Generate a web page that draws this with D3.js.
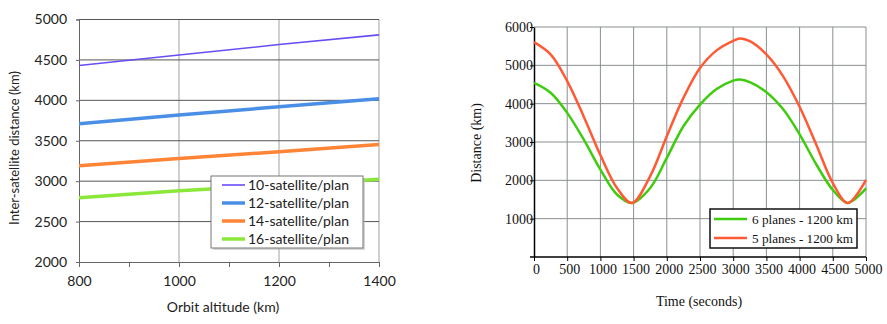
<!DOCTYPE html>
<html>
<head>
<meta charset="utf-8">
<script src="https://cdn.jsdelivr.net/npm/d3@7"></script>
<style>
  body { margin: 0; background: #fff; }
  svg { display: block; }
  .left text { font-family: 'Lato', sans-serif; fill: #222; }
  .right text { font-family: 'Liberation Serif', serif; fill: #111; }
</style>
</head>
<body>
<svg width="887" height="324"></svg>
<script>
const svg = d3.select('svg');

// left chart data: inter-satellite distance vs altitude
const altitudes = [800, 1000, 1200, 1400];
const sat10 = [4430, 4560, 4690, 4810];
const sat12 = [3710, 3820, 3920, 4020];
const sat14 = [3190, 3280, 3365, 3455];
const sat16 = [2795, 2880, 2950, 3025];
const leftNames = ['10-satellite/plan', '12-satellite/plan', '14-satellite/plan', '16-satellite/plan'];
const leftTicksY = [2000, 2500, 3000, 3500, 4000, 4500, 5000];
const leftTicksX = [800, 1000, 1200, 1400];

// right chart data: distance over time
const times = [0, 250, 500, 750, 1000, 1250, 1475, 1750, 2000, 2250, 2500, 2750, 3000, 3100, 3250, 3500, 3750, 4000, 4250, 4500, 4725, 5000];
const planes6 = [4540, 4285, 3760, 3060, 2280, 1630, 1410, 1800, 2585, 3410, 3975, 4380, 4600, 4630, 4560, 4300, 3860, 3200, 2420, 1750, 1410, 1790];
const planes5 = [5605, 5285, 4590, 3660, 2660, 1800, 1410, 2110, 3150, 4150, 4930, 5390, 5640, 5700, 5630, 5285, 4720, 3920, 2935, 1930, 1410, 2010];
const rightNames = ['6 planes - 1200 km', '5 planes - 1200 km'];
const rightTicksY = [1000, 2000, 3000, 4000, 5000, 6000];
const rightTicksX = d3.range(0, 5001, 500);

const renderLeft = () => {
  const g = svg.append('g').attr('class', 'left');
  const x = d3.scaleLinear().domain([800, 1400]).range([79, 379]);
  const y = d3.scaleLinear().domain([2000, 5000]).range([262, 19.5]);

  // vertical grid, light gray
  g.selectAll('.vgrid').data([1000, 1200, 1400]).enter().append('line')
    .attr('x1', d => x(d)).attr('x2', d => x(d))
    .attr('y1', y(5000)).attr('y2', y(2000))
    .attr('stroke', '#d0d0d0').attr('stroke-width', 2);
  // horizontal grid, dark
  g.selectAll('.hgrid').data(leftTicksY.slice(1)).enter().append('line')
    .attr('x1', x(800)).attr('x2', x(1400))
    .attr('y1', d => y(d)).attr('y2', d => y(d))
    .attr('stroke', '#555').attr('stroke-width', 1);

  const yAxis = d3.axisLeft(y).tickValues(leftTicksY).tickSize(3).tickPadding(9)
    .tickFormat(d3.format('d'));
  const ya = g.append('g').attr('transform', `translate(${x(800)},0)`).call(yAxis);
  ya.select('.domain').attr('stroke', '#666');
  ya.selectAll('.tick line').attr('stroke', '#666');
  ya.selectAll('text').attr('font-size', 14);

  const xAxis = d3.axisBottom(x).tickValues(d3.range(800, 1401, 100)).tickSize(5).tickPadding(9)
    .tickFormat(d => leftTicksX.includes(d) ? d : '');
  const xa = g.append('g').attr('transform', `translate(0,${y(2000)})`).call(xAxis);
  xa.select('.domain').attr('stroke', '#666');
  xa.selectAll('.tick line').attr('stroke', '#666');
  xa.selectAll('text').attr('font-size', 14);

  const series = [
    { name: leftNames[0], values: sat10, color: '#6a4cf5', w: 1.6 },
    { name: leftNames[1], values: sat12, color: '#4a8fe6', w: 3.5 },
    { name: leftNames[2], values: sat14, color: '#ff8536', w: 3.5 },
    { name: leftNames[3], values: sat16, color: '#8be83a', w: 3.5 }
  ];
  const line = d3.line().x((d, i) => x(altitudes[i])).y(d => y(d));
  g.selectAll('.series').data(series).enter().append('path')
    .attr('d', d => line(d.values))
    .attr('fill', 'none')
    .attr('stroke', d => d.color)
    .attr('stroke-width', d => d.w);

  // legend
  const lg = g.append('g').attr('transform', 'translate(211,176)');
  lg.append('rect').attr('x', 2).attr('y', 2).attr('width', 152).attr('height', 72)
    .attr('fill', '#bbb').attr('opacity', 0.6);
  lg.append('rect').attr('width', 152).attr('height', 72)
    .attr('fill', '#fff').attr('stroke', '#777').attr('stroke-width', 1);
  const items = lg.selectAll('.item').data(series).enter().append('g')
    .attr('transform', (d, i) => `translate(0,${9 + i * 18})`);
  items.append('line').attr('x1', 11).attr('x2', 34)
    .attr('stroke', d => d.color).attr('stroke-width', d => d.w);
  items.append('text').attr('x', 37).attr('dy', '0.35em').attr('font-size', 14)
    .text(d => d.name);

  g.append('text').attr('x', 223).attr('y', 312).attr('text-anchor', 'middle')
    .attr('font-size', 14).text('Orbit altitude (km)');
  g.append('text').attr('transform', 'translate(14,148) rotate(-90)')
    .attr('text-anchor', 'middle').attr('dy', '0.35em')
    .attr('font-size', 13).text('Inter-satellite distance (km)');
};

const renderRight = () => {
  const g = svg.append('g').attr('class', 'right');
  const x = d3.scaleLinear().domain([0, 5000]).range([534, 866]);
  const y = d3.scaleLinear().domain([0, 6000]).range([257, 27]);

  g.selectAll('.vgrid').data(rightTicksX.slice(1)).enter().append('line')
    .attr('x1', d => x(d)).attr('x2', d => x(d))
    .attr('y1', y(6000)).attr('y2', y(0))
    .attr('stroke', '#8a8f8f').attr('stroke-width', 1);
  g.selectAll('.hgrid').data(rightTicksY).enter().append('line')
    .attr('x1', x(0)).attr('x2', x(5000))
    .attr('y1', d => y(d)).attr('y2', d => y(d))
    .attr('stroke', '#8a8f8f').attr('stroke-width', 1);

  const yAxis = d3.axisLeft(y).tickValues(rightTicksY).tickSize(4).tickPadding(-3)
    .tickSizeOuter(0).tickFormat(d3.format('d'));
  const ya = g.append('g').attr('transform', `translate(${x(0)},0)`).call(yAxis);
  ya.selectAll('text').attr('font-size', 14);
  ya.select('.domain').attr('stroke-width', 1.5);

  const xAxis = d3.axisBottom(x).tickValues(rightTicksX).tickSize(4).tickPadding(3)
    .tickSizeOuter(0).tickFormat(d3.format('d'));
  const xa = g.append('g').attr('transform', `translate(0,${y(0)})`).call(xAxis);
  xa.selectAll('text').attr('font-size', 14).attr('dx', 2);
  xa.select('.domain').attr('stroke-width', 1.5).attr('d', `M${x(0) - 4},0H${x(5000)}`);

  const series = [
    { name: rightNames[0], values: planes6, color: '#3fcc10' },
    { name: rightNames[1], values: planes5, color: '#ff5a36' }
  ];
  // centripetal catmull-rom gives a smooth curve through the read points
  const line = d3.line().curve(d3.curveCatmullRom.alpha(0.5))
    .x((d, i) => x(times[i])).y(d => y(d));
  g.selectAll('.series').data(series).enter().append('path')
    .attr('d', d => line(d.values))
    .attr('fill', 'none')
    .attr('stroke', d => d.color)
    .attr('stroke-width', 2.5);

  const lg = g.append('g').attr('transform', 'translate(710,209)');
  lg.append('rect').attr('width', 147).attr('height', 39)
    .attr('fill', '#fff').attr('stroke', '#111').attr('stroke-width', 1.5);
  const items = lg.selectAll('.item').data(series).enter().append('g')
    .attr('transform', (d, i) => `translate(0,${10 + i * 19})`);
  items.append('line').attr('x1', 4).attr('x2', 37)
    .attr('stroke', d => d.color).attr('stroke-width', 2.5);
  items.append('text').attr('x', 42).attr('dy', '0.35em').attr('font-size', 13.2)
    .text(d => d.name);

  g.append('text').attr('x', 699).attr('y', 306).attr('text-anchor', 'middle')
    .attr('font-size', 14).text('Time (seconds)');
  g.append('text').attr('transform', 'translate(476,143) rotate(-90)')
    .attr('text-anchor', 'middle').attr('dy', '0.35em')
    .attr('font-size', 14).text('Distance (km)');
};

renderLeft();
renderRight();
</script>
</body>
</html>
